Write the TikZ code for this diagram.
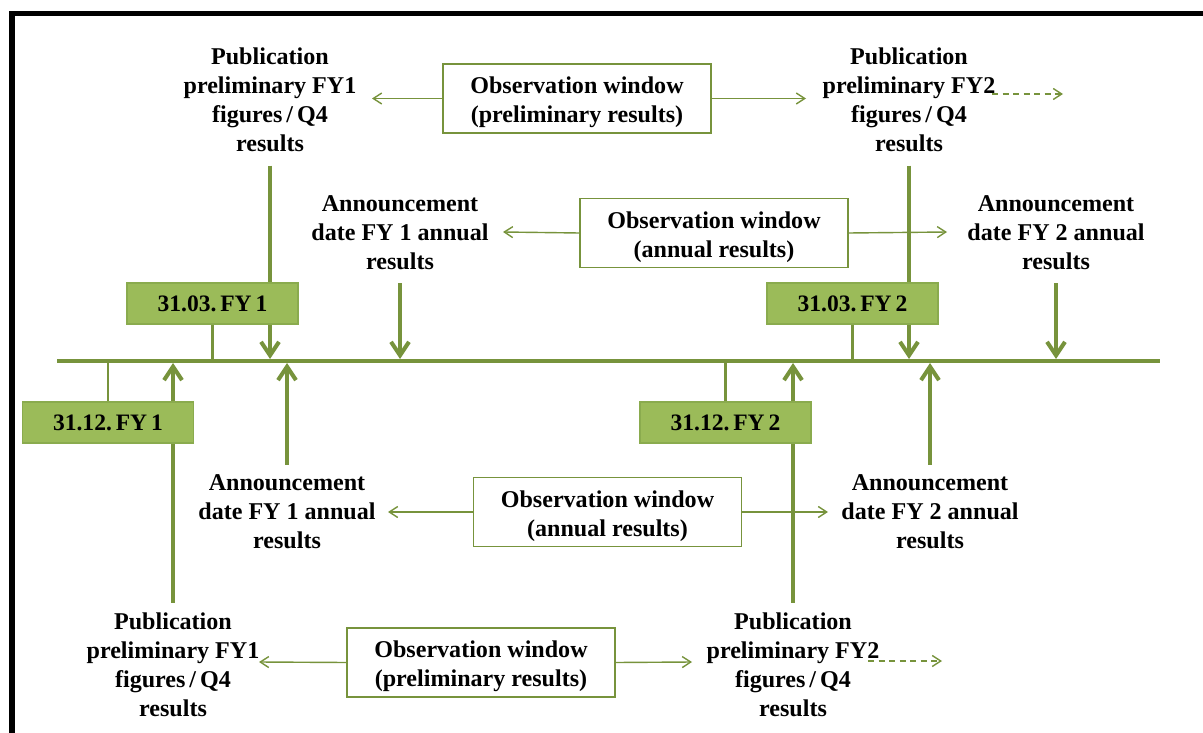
\documentclass[tikz,border=0pt]{standalone}
\usepackage{fontspec}
\setmainfont{Liberation Serif}
\usetikzlibrary{arrows.meta}
\definecolor{olive}{HTML}{77933C}
\definecolor{datefill}{HTML}{9BBB59}
\definecolor{dateline}{HTML}{8AAB4E}
% strut that lowers the two text lines inside the window boxes
\newcommand{\obsstrut}{\rule{0pt}{0.5cm}}
\begin{document}
\begin{tikzpicture}[x=0.02cm,y=-0.02cm,
  lbl/.style={font=\fontsize{13.7}{16.4}\selectfont\bfseries, align=center, inner sep=0pt},
  datebox/.style={draw=dateline, fill=datefill, line width=0.9pt,
    minimum width=3.42cm, minimum height=0.82cm, inner sep=0pt,
    font=\fontsize{13.4}{16}\selectfont\bfseries},
  obsbox/.style={draw=olive, fill=white, line width=0.8pt,
    minimum width=5.36cm, minimum height=1.38cm, inner sep=0pt, align=center,
    font=\fontsize{13.7}{16.4}\selectfont\bfseries},
  timeline/.style={draw=olive, line width=2.3pt},
  tick/.style={draw=olive, line width=1.3pt},
  bigarrow/.style={draw=olive, line width=2.3pt, -{Straight Barb[length=0.27cm,width=0.36cm]}},
  smallarrow/.style={draw=olive, line width=0.8pt, -{Straight Barb[length=0.17cm,width=0.22cm]}},
  nextarrow/.style={smallarrow, dashed, dash pattern=on 3.5pt off 2.5pt},
]
\useasboundingbox (0,0) rectangle (1203,733);

% outer frame (top and left edges)
\draw[line width=3pt, line cap=rect] (12,733) -- (12,13.5) -- (1203,13.5);

% event labels
\node[lbl] (pubA) at (270,100) {Publication\\preliminary FY1\\figures\,/\,Q4\\results};
\node[lbl] (pubB) at (909,100) {Publication\\preliminary FY2\\figures\,/\,Q4\\results};
\node[lbl] (annA) at (400,233) {Announcement\\date FY 1 annual\\results};
\node[lbl] (annB) at (1056,233) {Announcement\\date FY 2 annual\\results};
\node[lbl] (annC) at (287,512) {Announcement\\date FY 1 annual\\results};
\node[lbl] (annD) at (930,512) {Announcement\\date FY 2 annual\\results};
\node[lbl] (pubC) at (173,665) {Publication\\preliminary FY1\\figures\,/\,Q4\\results};
\node[lbl] (pubD) at (793,665) {Publication\\preliminary FY2\\figures\,/\,Q4\\results};

% time axis
\coordinate (tl0) at (57,361);
\coordinate (tl1) at (1160,361);
\draw[timeline] (tl0) -- (tl1);

% events above the axis
\draw[bigarrow] ([yshift=-0.27cm]pubA.south) -- ([yshift=0.04cm]pubA.south |- tl0);
\draw[bigarrow] ([yshift=-0.27cm]pubB.south) -- ([yshift=0.04cm]pubB.south |- tl0);
\draw[bigarrow] ([yshift=-0.26cm]annA.south) -- ([yshift=0.04cm]annA.south |- tl0);
\draw[bigarrow] ([yshift=-0.26cm]annB.south) -- ([yshift=0.04cm]annB.south |- tl0);
% events below the axis
\draw[bigarrow] ([yshift=0.2cm]pubC.north) -- ([yshift=-0.04cm]pubC.north |- tl0);
\draw[bigarrow] ([yshift=0.2cm]pubD.north) -- ([yshift=-0.04cm]pubD.north |- tl0);
\draw[bigarrow] ([yshift=0.2cm]annC.north) -- ([yshift=-0.04cm]annC.north |- tl0);
\draw[bigarrow] ([yshift=0.2cm]annD.north) -- ([yshift=-0.04cm]annD.north |- tl0);

% reporting dates
\node[datebox] (d1) at (212.5,303.5) {31.03.\,FY\,1};
\node[datebox] (d2) at (108,422.5) {31.12.\,FY\,1};
\node[datebox] (d3) at (852.5,303.5) {31.03.\,FY\,2};
\node[datebox] (d4) at (725.5,422.5) {31.12.\,FY\,2};
\draw[tick] (d1.south) -- (d1.south |- tl0);
\draw[tick] (d3.south) -- (d3.south |- tl0);
\draw[tick] (d2.north) -- (d2.north |- tl0);
\draw[tick] (d4.north) -- (d4.north |- tl0);

% observation windows
\node[obsbox] (o1) at (577,98.5) {\obsstrut Observation window\\(preliminary results)};
\node[obsbox] (o2) at (714,233) {\obsstrut Observation window\\(annual results)};
\node[obsbox] (o3) at (607.5,512) {\obsstrut Observation window\\(annual results)};
\node[obsbox] (o4) at (481,662.5) {\obsstrut Observation window\\(preliminary results)};

\coordinate (o1L) at (372,98.5);  \coordinate (o1R) at (806,98.5);
\coordinate (o2L) at (503,232);   \coordinate (o2R) at (947,232);
\coordinate (o3L) at (388,512);   \coordinate (o3R) at (828,512);
\coordinate (o4L) at (259,662);   \coordinate (o4R) at (692,662);
\draw[smallarrow] (o1.west) -- (o1L);
\draw[smallarrow] (o1.east) -- (o1R);
\draw[smallarrow] (o2.west) -- (o2L);
\draw[smallarrow] (o2.east) -- (o2R);
\draw[smallarrow] (o3.west) -- (o3L);
\draw[smallarrow] (o3.east) -- (o3R);
\draw[smallarrow] (o4.west) -- (o4L);
\draw[smallarrow] (o4.east) -- (o4R);

% continuation into the next year
\coordinate (n1a) at (992,94);  \coordinate (n1b) at (1063,94);
\coordinate (n2a) at (868,661); \coordinate (n2b) at (942,661);
\draw[nextarrow] (n1a) -- (n1b);
\draw[nextarrow] (n2a) -- (n2b);
\end{tikzpicture}
\end{document}
